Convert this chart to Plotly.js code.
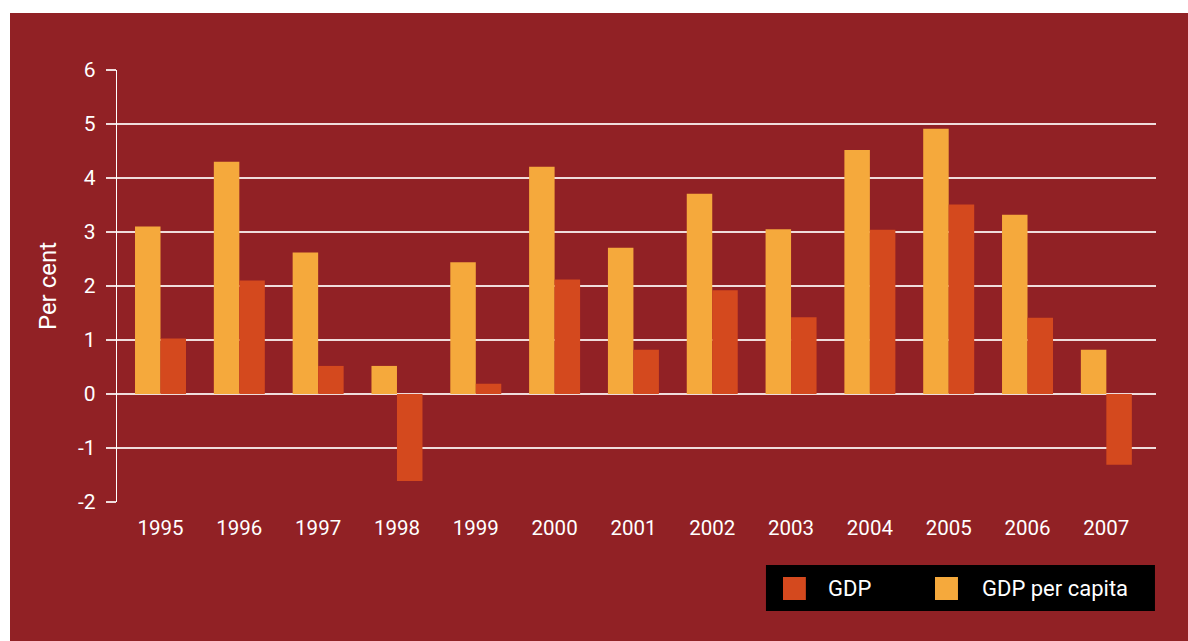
<!DOCTYPE html>
<html>
<head>
<meta charset="utf-8">
<script src="https://cdn.plot.ly/plotly-3.0.1.min.js"></script>
<style>
  html, body { margin: 0; padding: 0; background: #ffffff; width: 1188px; height: 641px; overflow: hidden; }
  #chart { position: absolute; left: 10px; top: 13px; width: 1178px; height: 628px; }
</style>
</head>
<body>
<div id="chart"></div>
<script>
const years = ['1995','1996','1997','1998','1999','2000','2001','2002','2003','2004','2005','2006','2007'];
const gdpPerCapita = [3.10, 4.30, 2.62, 0.52, 2.44, 4.21, 2.71, 3.71, 3.05, 4.52, 4.91, 3.32, 0.82];
const gdp = [1.03, 2.10, 0.52, -1.61, 0.19, 2.12, 0.82, 1.92, 1.42, 3.04, 3.51, 1.41, -1.31];
const yTicks = [-2, -1, 0, 1, 2, 3, 4, 5, 6];
const seriesNames = ['GDP', 'GDP per capita'];
const colGDP = '#D4491E';
const colPC = '#F5A93C';
const bg = '#912125';
const grid = '#EFDCDC';
const FONT = 'Roboto, "Liberation Sans", sans-serif';
const f = (size) => ({ family: FONT, size: size, color: '#ffffff' });

const traces = [
  { type: 'bar', x: years, y: gdpPerCapita, name: seriesNames[1], marker: { color: colPC }, hoverinfo: 'x+y' },
  { type: 'bar', x: years, y: gdp, name: seriesNames[0], marker: { color: colGDP }, hoverinfo: 'x+y' }
];

const layout = {
  width: 1178, height: 628,
  paper_bgcolor: bg, plot_bgcolor: bg,
  margin: { l: 107, r: 32, t: 57, b: 139 },
  showlegend: false,
  barmode: 'group', bargap: 0.353, bargroupgap: 0,
  font: f(20),
  xaxis: {
    type: 'category', range: [-0.552, 12.63],
    showgrid: false, zeroline: false, showline: false, ticks: '',
    tickfont: f(20.5), ticklabelstandoff: 11
  },
  yaxis: {
    range: [-2, 6], tickvals: yTicks, ticktext: yTicks.map(String),
    showgrid: true, gridcolor: grid, gridwidth: 1.5,
    zeroline: true, zerolinecolor: grid, zerolinewidth: 1.5,
    showline: true, linecolor: '#ffffff', linewidth: 1.2,
    ticks: 'outside', ticklen: 10, tickcolor: grid, tickwidth: 1.5,
    tickfont: f(21), ticklabelstandoff: 6,
    title: { text: 'Per cent', font: f(24), standoff: 14 }
  },
  shapes: [
    { type: 'rect', xref: 'paper', yref: 'paper', x0: 0.6246, x1: 0.999, y0: -0.1458, y1: -0.2523, fillcolor: '#000000', line: { width: 0 } },
    { type: 'rect', xref: 'paper', yref: 'paper', x0: 0.641, x1: 0.663, y0: -0.1736, y1: -0.2269, fillcolor: colGDP, line: { width: 0 } },
    { type: 'rect', xref: 'paper', yref: 'paper', x0: 0.7873, x1: 0.8094, y0: -0.1736, y1: -0.2269, fillcolor: colPC, line: { width: 0 } }
  ],
  annotations: [
    { xref: 'paper', yref: 'paper', x: 0.6824, y: -0.2002, xanchor: 'left', yanchor: 'middle', text: seriesNames[0], showarrow: false, font: f(22) },
    { xref: 'paper', yref: 'paper', x: 0.8306, y: -0.2002, xanchor: 'left', yanchor: 'middle', text: seriesNames[1], showarrow: false, font: f(22) }
  ]
};

Plotly.newPlot('chart', traces, layout, { displayModeBar: false, staticPlot: true });
</script>
</body>
</html>
